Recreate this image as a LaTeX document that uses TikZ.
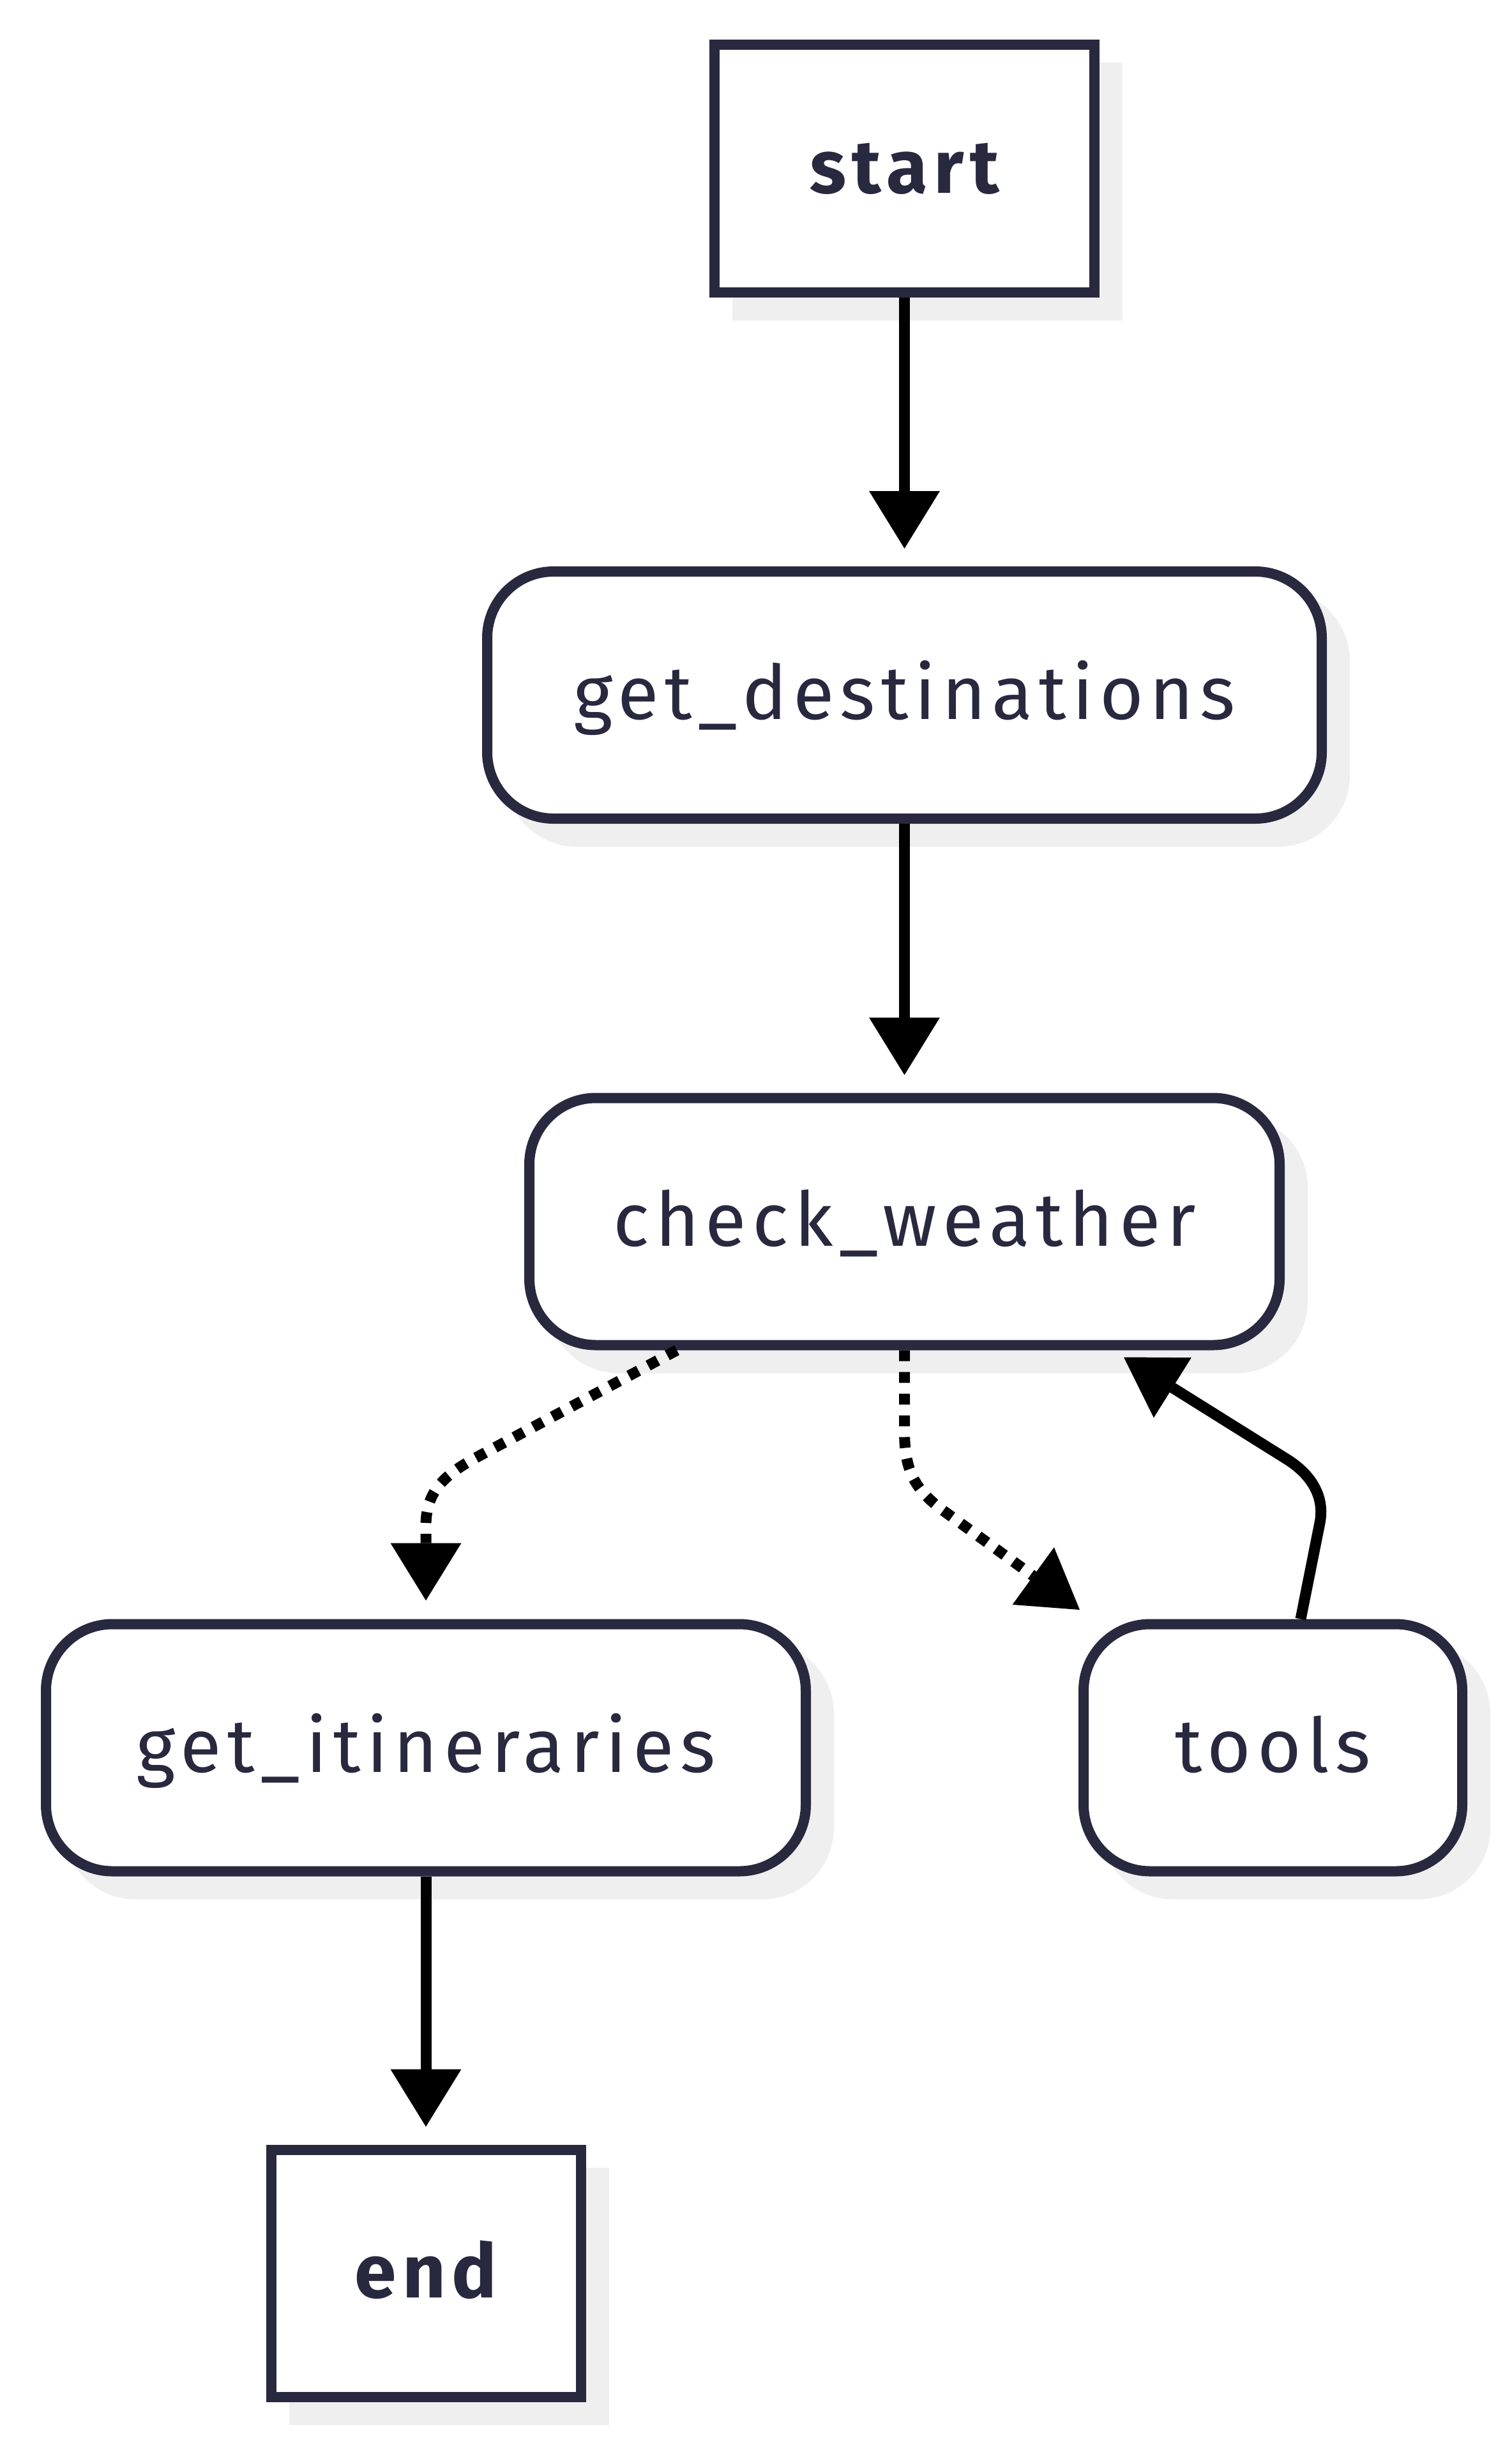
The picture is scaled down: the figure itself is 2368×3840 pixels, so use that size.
\documentclass[tikz,border=0pt]{standalone}
\usepackage{fontspec}
\setmainfont{Fira Sans}[LetterSpace=8]
\usetikzlibrary{arrows.meta}
\definecolor{nodeline}{HTML}{28283F}
\definecolor{shadowc}{HTML}{EFEFEF}
\tikzset{
  basebox/.style={draw=nodeline, line width=16pt, fill=white, text=nodeline,
    inner sep=0pt, minimum height=387pt, text height=90pt, text depth=14pt,
    font=\fontsize{118}{118}\selectfont,
    preaction={draw=shadowc, fill=shadowc, transform canvas={shift={(36pt,-36pt)}}}},
  roundbox/.style={basebox, rounded corners=104pt},
  termbox/.style={basebox, font=\fontsize{118}{118}\selectfont\bfseries},
  arrowline/.style={draw=black, line width=17pt,
    -{Triangle[length=90pt,width=111pt,line width=0pt]}},
  dottedline/.style={arrowline, dash pattern=on 17pt off 17pt},
}
\begin{document}
\begin{tikzpicture}[x=1pt,y=-1pt]
\useasboundingbox (0,0) rectangle (2368,3840);
\node[termbox, minimum width=595pt] (start) at (1416.5,264) {start};
\node[roundbox, minimum width=1307pt] (gd) at (1416.5,1088.5) {get\_destinations};
\node[roundbox, minimum width=1175pt] (cw) at (1416.5,1913) {check\_weather};
\node[roundbox, minimum width=1190pt] (gi) at (667,2737) {get\_itineraries};
\node[roundbox, minimum width=593pt] (tools) at (1993.5,2737) {tools};
\node[termbox, minimum width=485pt] (end) at (667,3560) {end};

\draw[arrowline, shorten >=28pt] (start) -- (gd);
\draw[arrowline, shorten >=28pt] (gd) -- (cw);
\draw[arrowline, shorten >=28pt] (gi) -- (end);
\draw[dottedline, shorten >=29pt] ([xshift=-356.5pt]cw.south) -- (745,2283)
  .. controls (690,2313) and (667,2340) .. (667,2390) -- (gi.north);
\draw[dottedline] (cw.south) -- (1416.5,2240)
  .. controls (1416.5,2300) and (1430,2330) .. (1475,2364)
  -- ([xshift=2pt,yshift=14.5pt]tools.north west);
\draw[arrowline] ([xshift=43.5pt]tools.north) -- (2067,2385)
  .. controls (2075,2345) and (2055,2310) .. (2015,2285)
  -- ([xshift=343.5pt,yshift=-11pt]cw.south);
\end{tikzpicture}
\end{document}
